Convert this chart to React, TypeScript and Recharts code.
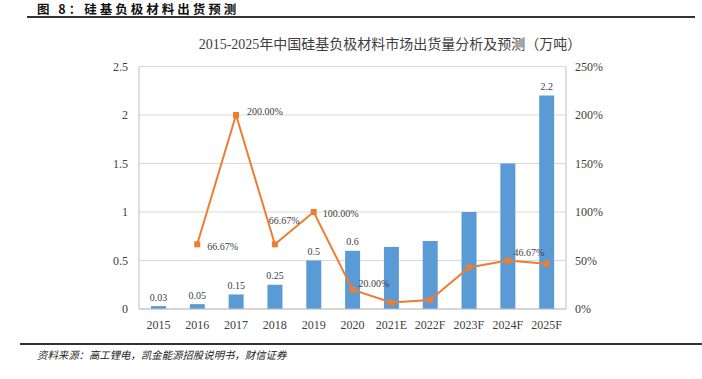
import React from 'react';
import { ComposedChart, Bar, Line, XAxis, YAxis, CartesianGrid, LabelList } from 'recharts';

const categories = ['2015', '2016', '2017', '2018', '2019', '2020', '2021E', '2022F', '2023F', '2024F', '2025F'];
const shipments = [0.03, 0.05, 0.15, 0.25, 0.5, 0.6, 0.64, 0.7, 1.0, 1.5, 2.2];
const shipmentLabels = ['0.03', '0.05', '0.15', '0.25', '0.5', '0.6', null, null, null, null, '2.2'];
const growth = [null, 66.67, 200, 66.67, 100, 20, 6.67, 9.38, 42.86, 50, 46.67];
const growthLabels = [null, '66.67%', '200.00%', '66.67%', '100.00%', '20.00%', null, null, null, null, '46.67%'];
const leftTicks = [0, 0.5, 1, 1.5, 2, 2.5];
const rightTicks = [0, 50, 100, 150, 200, 250];

const pageTitle = '图 8：硅基负极材料出货预测';
const chartTitle = '2015-2025年中国硅基负极材料市场出货量分析及预测（万吨）';
const sourceText = '资料来源：高工锂电，凯金能源招股说明书，财信证券';

const data = categories.map((c, i) => ({
  category: c,
  shipment: shipments[i],
  shipmentLabel: shipmentLabels[i],
  growth: growth[i],
  growthLabel: growthLabels[i],
}));

const FONT = "'Liberation Serif', 'Noto Sans CJK SC', serif";
const BLUE = '#5B9BD5';
const ORANGE = '#ED7D31';
const TEXT = '#404040';

const lineLabelOffsets: Record<number, [number, number]> = {
  1: [10, 2],
  2: [11, -4],
  3: [-6, -24],
  4: [9, 1],
  5: [6, -6],
  10: [-33, -11],
};

const SquareDot = (props: any) => {
  const { cx, cy, value } = props;
  if (value == null || cx == null || cy == null) return null;
  return <rect x={cx - 3} y={cy - 3} width={6} height={6} fill={ORANGE} />;
};

const BarLabel = (props: any) => {
  const { x, y, width, value } = props;
  if (value == null || value === '') return null;
  return (
    <text x={x + width / 2} y={y - 9} textAnchor="middle" dominantBaseline="central" fontSize={10} fill={TEXT} fontFamily={FONT}>
      {value}
    </text>
  );
};

const LineLabel = (props: any) => {
  const { x, y, value, index } = props;
  if (value == null || value === '') return null;
  const off = lineLabelOffsets[index] || [6, -8];
  return (
    <text x={x + off[0]} y={y + off[1]} textAnchor="start" dominantBaseline="central" fontSize={10} fill={TEXT} fontFamily={FONT}>
      {value}
    </text>
  );
};

export default function App() {
  return (
    <div style={{ position: 'absolute', left: 0, top: 0, width: 702, height: 379, background: '#fff', overflow: 'hidden' }}>
      <div
        style={{
          position: 'absolute',
          left: 37,
          top: 0,
          fontFamily: "'Noto Sans CJK SC', sans-serif",
          fontWeight: 'bold',
          fontSize: 12.5,
          letterSpacing: 3,
          color: '#111',
          whiteSpace: 'nowrap',
          lineHeight: '18px',
        }}
      >
        {pageTitle}
      </div>
      <div style={{ position: 'absolute', left: 27, top: 16, width: 668, height: 2, background: '#333' }} />
      <div
        style={{
          position: 'absolute',
          left: 0,
          width: 780,
          top: 36,
          textAlign: 'center',
          fontFamily: FONT,
          fontSize: 14,
          color: TEXT,
          whiteSpace: 'nowrap',
          lineHeight: '18px',
        }}
      >
        {chartTitle}
      </div>
      <div style={{ position: 'absolute', left: 0, top: 0 }}>
        <ComposedChart
          width={702}
          height={379}
          data={data}
          margin={{ top: 66.5, right: 0, bottom: 0, left: 0 }}
          barCategoryGap="60%"
        >
          <CartesianGrid vertical={false} stroke="#d9d9d9" yAxisId="left" />
          <XAxis
            dataKey="category"
            axisLine={{ stroke: '#bfbfbf' }}
            tickLine={false}
            tickSize={6}
            tickMargin={5}
            height={70}
            interval={0}
            tick={{ fontSize: 12, fill: TEXT, fontFamily: FONT }}
          />
          <YAxis
            yAxisId="left"
            domain={[0, 2.5]}
            ticks={leftTicks}
            width={139}
            axisLine={{ stroke: '#bfbfbf' }}
            tickLine={false}
            tickSize={6}
            tickMargin={5}
            tick={{ fontSize: 12, fill: TEXT, fontFamily: FONT }}
          />
          <YAxis
            yAxisId="right"
            orientation="right"
            domain={[0, 250]}
            ticks={rightTicks}
            width={136}
            axisLine={{ stroke: '#bfbfbf' }}
            tickLine={false}
            tickSize={6}
            tickMargin={3}
            tickFormatter={(v: number) => `${v}%`}
            tick={{ fontSize: 12, fill: TEXT, fontFamily: FONT, textAnchor: 'start' }}
          />
          <Bar yAxisId="left" dataKey="shipment" fill={BLUE} barSize={15} isAnimationActive={false}>
            <LabelList dataKey="shipmentLabel" content={BarLabel} />
          </Bar>
          <Line
            yAxisId="right"
            dataKey="growth"
            stroke={ORANGE}
            strokeWidth={2}
            dot={<SquareDot />}
            activeDot={false}
            isAnimationActive={false}
            connectNulls
          >
            <LabelList dataKey="growthLabel" content={LineLabel} />
          </Line>
        </ComposedChart>
      </div>
      <div style={{ position: 'absolute', left: 20, top: 343, width: 682, height: 2, background: '#333' }} />
      <div
        style={{
          position: 'absolute',
          left: 37,
          top: 348,
          fontFamily: "'Noto Sans CJK SC', sans-serif",
          fontStyle: 'italic',
          fontSize: 10.4,
          color: '#222',
          whiteSpace: 'nowrap',
          lineHeight: '14px',
        }}
      >
        {sourceText}
      </div>
    </div>
  );
}
